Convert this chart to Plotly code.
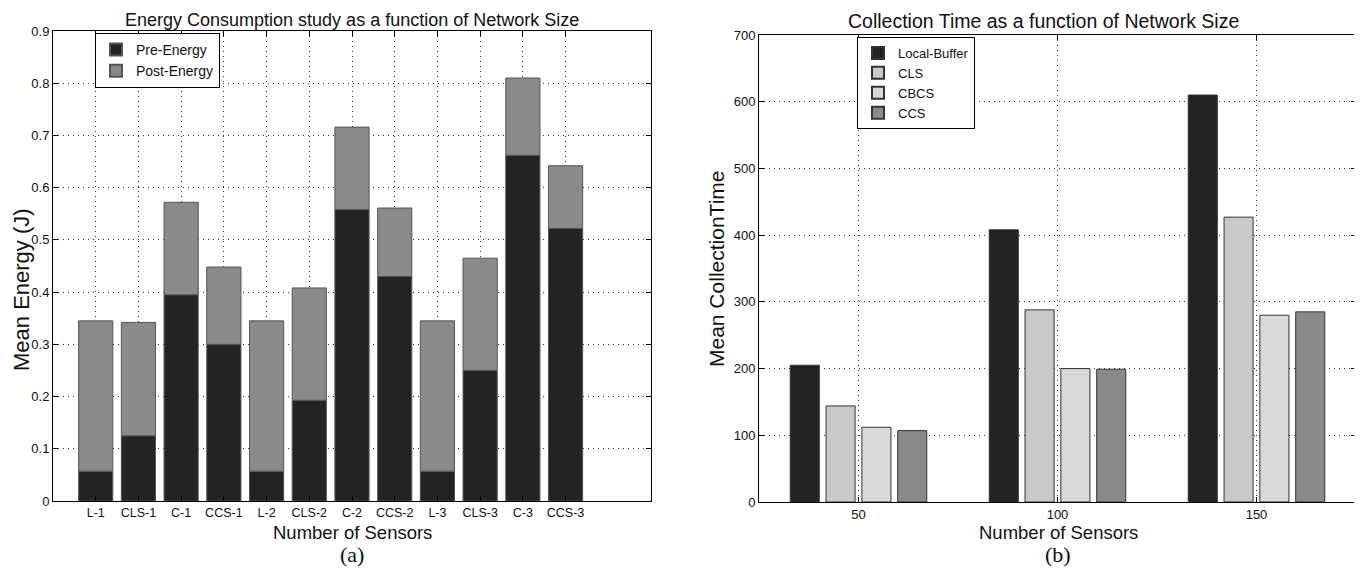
import plotly.graph_objects as go

# ---------------- data ----------------
energy_cats = ["L-1", "CLS-1", "C-1", "CCS-1", "L-2", "CLS-2", "C-2", "CCS-2",
               "L-3", "CLS-3", "C-3", "CCS-3"]
pre_energy = [0.057, 0.125, 0.395, 0.300, 0.057, 0.193, 0.558, 0.430,
              0.057, 0.250, 0.662, 0.522]
post_energy = [0.288, 0.217, 0.177, 0.148, 0.288, 0.215, 0.158, 0.131,
               0.288, 0.215, 0.148, 0.120]

sensors = [50, 100, 150]
local_buffer = [205, 408, 610]
cls_time = [144, 288, 427]
cbcs_time = [112, 200, 280]
ccs_time = [107, 199, 285]

energy_ticks = [0, 0.1, 0.2, 0.3, 0.4, 0.5, 0.6, 0.7, 0.8, 0.9]
time_ticks = [0, 100, 200, 300, 400, 500, 600, 700]

# ---------------- style ----------------
OFF = 8  # page body margin
W, H = 1362 - OFF, 575 - OFF
SANS = "Liberation Sans, Arial, sans-serif"
SERIF = "Liberation Serif, Times New Roman, serif"
DARK = "#232323"
MID = "#8a8a8a"
LIGHT1 = "#c9c9c9"
LIGHT2 = "#d9d9d9"
EDGE = "#555555"

fig = go.Figure()

pos = list(range(1, len(energy_cats) + 1))
fig.add_trace(go.Bar(x=pos, y=pre_energy, name="Pre-Energy", width=0.8,
                     marker=dict(color=DARK, line=dict(color=EDGE, width=1)),
                     xaxis="x", yaxis="y", legend="legend"))
fig.add_trace(go.Bar(x=pos, y=post_energy, base=pre_energy, name="Post-Energy", width=0.8,
                     marker=dict(color=MID, line=dict(color=EDGE, width=1)),
                     xaxis="x", yaxis="y", legend="legend"))

series = [("Local-Buffer", local_buffer, DARK),
          ("CLS", cls_time, LIGHT1),
          ("CBCS", cbcs_time, LIGHT2),
          ("CCS", ccs_time, MID)]
slot = 9.0
bw = 7.3
for i, (nm, vals, col) in enumerate(series):
    off = (i - 1.5) * slot - bw / 2
    fig.add_trace(go.Bar(x=sensors, y=vals, name=nm, width=bw, offset=off,
                         marker=dict(color=col, line=dict(color="#333333", width=1)),
                         xaxis="x2", yaxis="y2", legend="legend2"))

def px_x(p):
    return (p - OFF) / W

def px_y(p):
    return 1 - (p - OFF) / H

def axis_common(size):
    return dict(showline=True, linecolor="black", linewidth=1, mirror="ticks",
                ticks="inside", ticklen=5, tickcolor="black", automargin=False,
                showgrid=True, gridcolor="#333333", griddash="1px,4px", gridwidth=1,
                zeroline=False, tickfont=dict(family=SANS, size=size, color="#111"))

fig.update_layout(
    width=W, height=H,
    margin=dict(l=0, r=0, t=0, b=0, pad=0),
    autosize=False,
    paper_bgcolor="white", plot_bgcolor="white",
    barmode="overlay",
    showlegend=True,
    xaxis=dict(domain=[px_x(53), px_x(651)], range=[0, 14],
               tickvals=pos, ticktext=energy_cats, anchor="y", **axis_common(12.5)),
    yaxis=dict(domain=[px_y(501), px_y(31)], range=[0, 0.9],
               tickvals=energy_ticks, ticktext=[f"{v:g}" for v in energy_ticks],
               anchor="x", **axis_common(13)),
    xaxis2=dict(domain=[px_x(759), px_x(1356)], range=[25, 175],
                tickvals=sensors, anchor="y2", **axis_common(13)),
    yaxis2=dict(domain=[px_y(502), px_y(35)], range=[0, 700],
                tickvals=time_ticks, anchor="x2", **axis_common(13)),
    legend=dict(x=px_x(95), y=px_y(33), xanchor="left", yanchor="top",
                bgcolor="white", bordercolor="black", borderwidth=1,
                traceorder="normal", font=dict(family=SANS, size=14, color="#111"),
                itemsizing="constant", tracegroupgap=0),
    legend2=dict(x=px_x(857), y=px_y(37), xanchor="left", yanchor="top",
                 bgcolor="white", bordercolor="black", borderwidth=1,
                 traceorder="normal", font=dict(family=SANS, size=13, color="#111"),
                 itemsizing="constant", tracegroupgap=0),
)

ann = [
    dict(text="Energy Consumption study as a function of Network Size",
         x=px_x(352), y=1.0, yanchor="top", font=dict(family=SANS, size=18, color="#111")),
    dict(text="Collection Time as a function of Network Size",
         x=px_x(1043), y=1.0, yanchor="top", font=dict(family=SANS, size=19.5, color="#111")),
    dict(text="Number of Sensors", x=px_x(352), y=px_y(532),
         font=dict(family=SANS, size=18.5, color="#111")),
    dict(text="Number of Sensors", x=px_x(1058), y=px_y(532),
         font=dict(family=SANS, size=18.5, color="#111")),
    dict(text="(a)", x=px_x(352), y=px_y(554),
         font=dict(family=SERIF, size=22, color="#111")),
    dict(text="(b)", x=px_x(1058), y=px_y(554),
         font=dict(family=SERIF, size=22, color="#111")),
    dict(text="Mean Energy (J)", x=px_x(21), y=px_y(290), textangle=-90,
         font=dict(family=SANS, size=22, color="#111")),
    dict(text="Mean CollectionTime", x=px_x(717), y=px_y(269), textangle=-90,
         font=dict(family=SANS, size=21, color="#111")),
]
for a in ann:
    a.setdefault("yanchor", "middle")
    a.update(xref="paper", yref="paper", showarrow=False, xanchor="center")
fig.update_layout(annotations=ann)

fig.write_html("out.html")
